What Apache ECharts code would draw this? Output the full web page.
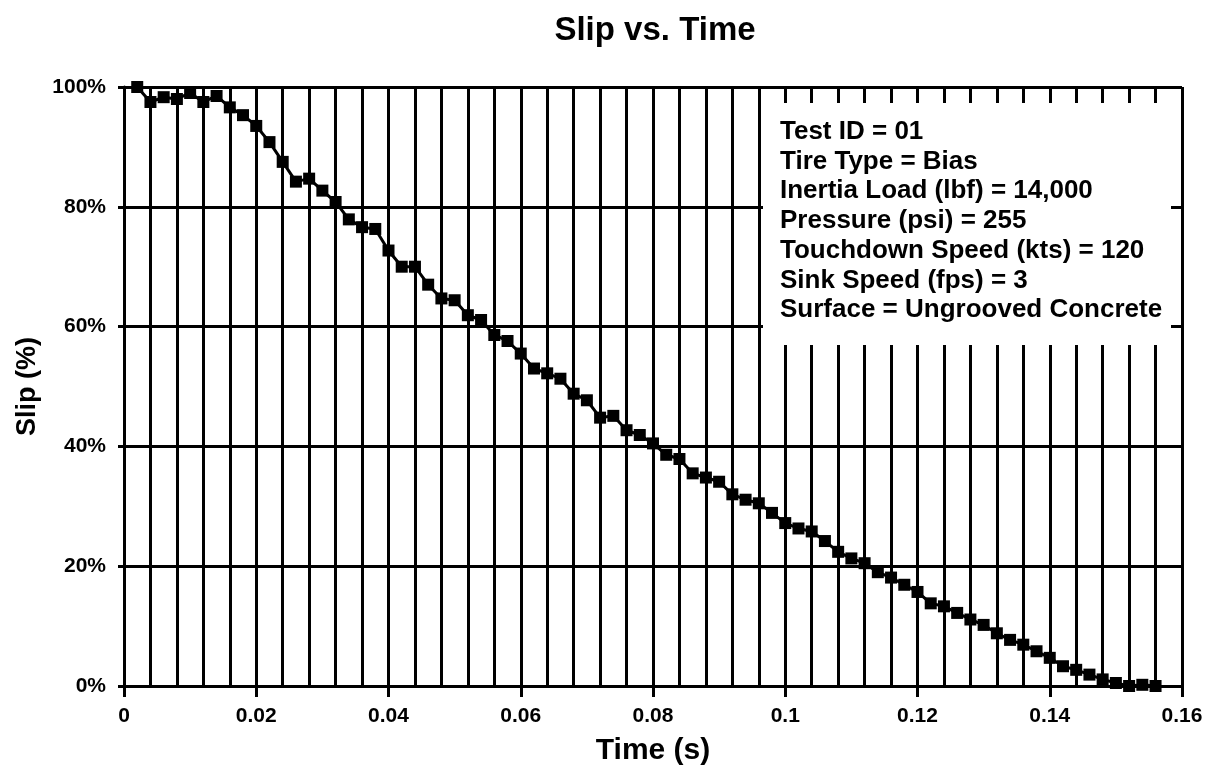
<!DOCTYPE html>
<html>
<head>
<meta charset="utf-8">
<title>Slip vs. Time</title>
<script src="https://cdn.jsdelivr.net/npm/echarts@6/dist/echarts.min.js"></script>
<style>
  html, body { margin: 0; padding: 0; background: #fff; }
  #chart { width: 1207px; height: 771px; }
</style>
</head>
<body>
<div id="chart"></div>
<script>
// time in seconds (one sample every 2 ms)
const time = [
  0.002, 0.004, 0.006, 0.008, 0.010, 0.012, 0.014, 0.016, 0.018, 0.020,
  0.022, 0.024, 0.026, 0.028, 0.030, 0.032, 0.034, 0.036, 0.038, 0.040,
  0.042, 0.044, 0.046, 0.048, 0.050, 0.052, 0.054, 0.056, 0.058, 0.060,
  0.062, 0.064, 0.066, 0.068, 0.070, 0.072, 0.074, 0.076, 0.078, 0.080,
  0.082, 0.084, 0.086, 0.088, 0.090, 0.092, 0.094, 0.096, 0.098, 0.100,
  0.102, 0.104, 0.106, 0.108, 0.110, 0.112, 0.114, 0.116, 0.118, 0.120,
  0.122, 0.124, 0.126, 0.128, 0.130, 0.132, 0.134, 0.136, 0.138, 0.140,
  0.142, 0.144, 0.146, 0.148, 0.150, 0.152, 0.154, 0.156
];
// slip in percent
const slip = [
  100, 97.5, 98.3, 98.0, 99.0, 97.5, 98.5, 96.6, 95.3, 93.5,
  90.8, 87.5, 84.2, 84.7, 82.7, 80.8, 77.9, 76.6, 76.3, 72.7,
  70.0, 70.0, 67.0, 64.7, 64.4, 61.9, 61.1, 58.6, 57.6, 55.5,
  53.0, 52.2, 51.3, 48.8, 47.7, 44.8, 45.1, 42.7, 41.9, 40.5,
  38.6, 37.9, 35.5, 34.8, 34.1, 32.0, 31.1, 30.5, 28.9, 27.2,
  26.3, 25.8, 24.2, 22.4, 21.3, 20.5, 19.0, 18.1, 16.9, 15.7,
  13.8, 13.3, 12.2, 11.1, 10.2, 8.8, 7.7, 6.9, 5.8, 4.7,
  3.3, 2.7, 1.9, 1.1, 0.5, 0, 0.2, 0
];
const infoLines = [
  "Test ID = 01",
  "Tire Type = Bias",
  "Inertia Load (lbf) = 14,000",
  "Pressure (psi) = 255",
  "Touchdown Speed (kts) = 120",
  "Sink Speed (fps) = 3",
  "Surface = Ungrooved Concrete"
];

const font = "'Liberation Sans', Arial, Helvetica, sans-serif";
const points = time.map((t, i) => [t, slip[i]]);

const chart = echarts.init(document.getElementById("chart"));
chart.setOption({
  animation: false,
  backgroundColor: "#fff",
  textStyle: { fontFamily: font, color: "#000" },
  grid: { left: 124, right: 25, top: 87, bottom: 83 },
  xAxis: {
    type: "value",
    min: 0,
    max: 0.16,
    interval: 0.02,
    name: "Time (s)",
    nameLocation: "middle",
    nameGap: 50,
    nameTextStyle: { fontSize: 30, fontWeight: "bold", color: "#000" },
    axisLine: { lineStyle: { color: "#000", width: 3 } },
    axisTick: { inside: false, length: 11, lineStyle: { color: "#000", width: 3 } },
    axisLabel: {
      margin: 20,
      fontSize: 21,
      fontWeight: "bold",
      color: "#000",
      formatter: v => String(parseFloat(v.toFixed(3)))
    },
    splitLine: { show: true, lineStyle: { color: "#000", width: 3 } },
    minorTick: { show: false, splitNumber: 5 },
    minorSplitLine: { show: true, lineStyle: { color: "#000", width: 3 } }
  },
  yAxis: {
    type: "value",
    min: 0,
    max: 100,
    interval: 20,
    name: "Slip (%)",
    nameLocation: "middle",
    nameGap: 80,
    nameTextStyle: { fontSize: 27, fontWeight: "bold", color: "#000" },
    axisLine: { show: true, lineStyle: { color: "#000", width: 3 } },
    axisTick: { show: true, length: 6, lineStyle: { color: "#000", width: 3 } },
    axisLabel: {
      margin: 18,
      fontSize: 21,
      fontWeight: "bold",
      color: "#000",
      formatter: "{value}%"
    },
    splitLine: { show: true, lineStyle: { color: "#000", width: 3 } }
  },
  series: [
    {
      name: "Slip",
      type: "line",
      data: points,
      symbol: "rect",
      symbolSize: 12,
      lineStyle: { color: "#000", width: 3 },
      itemStyle: { color: "#000" },
      z: 5
    }
  ],
  graphic: [
    {
      type: "text",
      z: 60,
      x: 655,
      y: 31,
      style: {
        text: "Slip vs. Time",
        font: "bold 33px " + font,
        textAlign: "center",
        textVerticalAlign: "middle",
        fill: "#000"
      }
    },
    {
      type: "rect",
      z: 50,
      shape: { x: 763, y: 103, width: 408, height: 242 },
      style: { fill: "#fff" }
    },
    {
      type: "text",
      z: 51,
      left: 780,
      top: 117,
      style: {
        text: infoLines.join("\n"),
        font: "bold 26px " + font,
        lineHeight: 29.7,
        fill: "#000"
      }
    }
  ]
});
</script>
</body>
</html>
